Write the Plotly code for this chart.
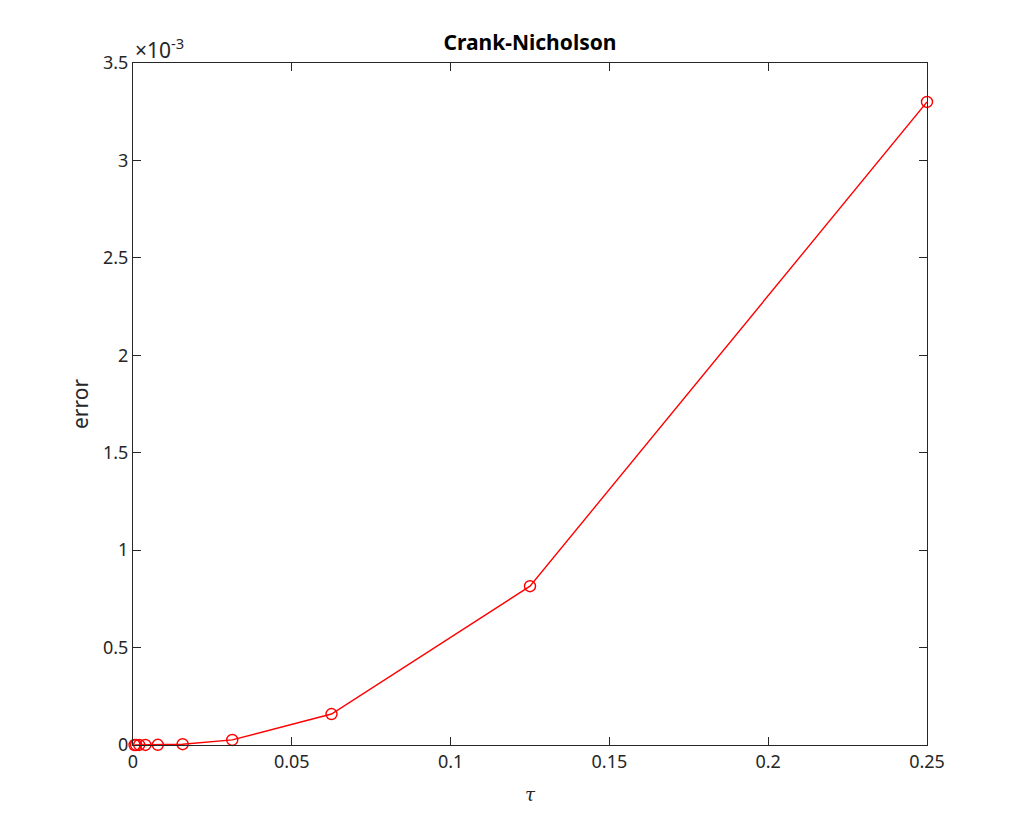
import plotly.graph_objects as go

tau = [0.25, 0.125, 0.0625, 0.03125, 0.015625, 0.0078125, 0.00390625,
       0.001953125, 0.0009765625, 0.00048828125]
err = [3.30e-3, 0.815e-3, 0.159e-3, 0.026e-3, 0.004e-3, 0.001e-3, 0.0003e-3,
       0.0001e-3, 0.00003e-3, 0.00001e-3]

yticks = [0, 0.5e-3, 1e-3, 1.5e-3, 2e-3, 2.5e-3, 3e-3, 3.5e-3]
yticklabels = ["0", "0.5", "1", "1.5", "2", "2.5", "3", "3.5"]
xticks = [0, 0.05, 0.1, 0.15, 0.2, 0.25]
xticklabels = ["0", "0.05", "0.1", "0.15", "0.2", "0.25"]

font = "Noto Sans, Open Sans, sans-serif"
tc = "#262626"

fig = go.Figure()
fig.add_trace(go.Scatter(
    x=tau, y=err, mode="lines+markers",
    line=dict(color="#ff0000", width=1.4),
    marker=dict(symbol="circle-open", size=11, color="#ff0000",
                line=dict(width=1.4, color="#ff0000")),
    showlegend=False, cliponaxis=False,
))

axis_common = dict(
    showline=True, linecolor=tc, linewidth=1, mirror="ticks",
    ticks="inside", ticklen=8, tickcolor=tc, tickwidth=1,
    showgrid=False, zeroline=False,
    tickfont=dict(family=font, size=18, color=tc),
)

# page body has an 8px margin; margins compensate so the axes land where the reference has them
fig.update_layout(
    width=1024, height=837,
    paper_bgcolor="white", plot_bgcolor="white",
    margin=dict(l=125, r=105, t=55, b=100),
    title=dict(text="<b>Crank-Nicholson</b>", x=(530 - 8) / 1024, xanchor="center",
               y=1 - (43 - 8) / 837, yanchor="middle",
               font=dict(family=font, size=21, color="black")),
    xaxis=dict(range=[0, 0.25], tickvals=xticks, ticktext=xticklabels,
               title=dict(text="<i>τ</i>", font=dict(family="DejaVu Serif, serif", size=18, color=tc), standoff=16),
               **axis_common),
    yaxis=dict(range=[0, 3.5e-3], tickvals=yticks, ticktext=yticklabels,
               title=dict(text="error", font=dict(family=font, size=21, color=tc), standoff=8),
               **axis_common),
    annotations=[dict(text="×10<sup>-3</sup>", xref="paper", yref="paper",
                      x=0, y=1, xanchor="left", yanchor="bottom", yshift=-3,
                      showarrow=False,
                      font=dict(family=font, size=21, color=tc))],
)

fig.write_html("out.html")
